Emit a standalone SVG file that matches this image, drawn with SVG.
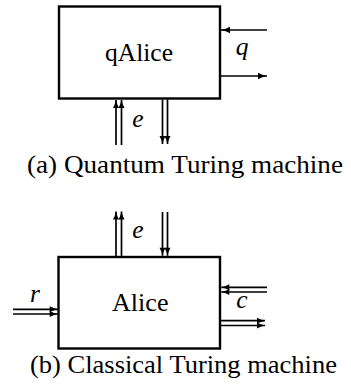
<svg xmlns="http://www.w3.org/2000/svg" width="351" height="387" viewBox="0 0 351 387">
  <style>
    .box { fill: #fff; stroke: #000; stroke-width: 2.4; }
    .lbl { font-family: "Liberation Serif", "DejaVu Serif", serif; font-size: 25.5px; fill: #000; }
    .math { font-family: "Liberation Serif", "DejaVu Serif", serif; font-style: italic; font-size: 25.5px; fill: #000; }
    .cap { font-family: "Liberation Serif", "DejaVu Serif", serif; font-size: 25.5px; fill: #000; }
    .one { stroke: #000; stroke-width: 1.6; fill: none; marker-end: url(#head); }
    .dbl { stroke: #000; stroke-width: 1.7; fill: none; marker-end: url(#headS); }
  </style>
  <defs>
    <marker id="head" markerUnits="userSpaceOnUse" markerWidth="12" markerHeight="10" viewBox="0 -5 10 10" refX="9" refY="0" orient="auto">
      <path d="M0,-3.3 Q4,-1 9,0 Q4,1 0,3.3 Z" fill="#000"/>
    </marker>
    <marker id="headS" markerUnits="userSpaceOnUse" markerWidth="10" markerHeight="8" viewBox="0 -4 9 8" refX="8" refY="0" orient="auto">
      <path d="M0,-3 Q3.5,-1 8,0 Q3.5,1 0,3 Z" fill="#000"/>
    </marker>
  </defs>

  <g id="connectors">
    <line class="one" x1="267" y1="30" x2="221" y2="30"/>
    <line class="one" x1="220.5" y1="76" x2="267" y2="76"/>
    <line class="dbl" x1="116" y1="145" x2="116" y2="100"/>
    <line class="dbl" x1="121.5" y1="145" x2="121.5" y2="100"/>
    <line class="dbl" x1="162.5" y1="99.5" x2="162.5" y2="144"/>
    <line class="dbl" x1="167.5" y1="99.5" x2="167.5" y2="144"/>

    <line class="dbl" x1="116" y1="256" x2="116" y2="211.5"/>
    <line class="dbl" x1="121.5" y1="256" x2="121.5" y2="211.5"/>
    <line class="dbl" x1="162.5" y1="212" x2="162.5" y2="255.7"/>
    <line class="dbl" x1="167.5" y1="212" x2="167.5" y2="255.7"/>
    <line class="dbl" x1="267" y1="287.3" x2="221.3" y2="287.3"/>
    <line class="dbl" x1="267" y1="292" x2="221.3" y2="292"/>
    <line class="dbl" x1="220.5" y1="320.7" x2="265" y2="320.7"/>
    <line class="dbl" x1="220.5" y1="325.5" x2="265" y2="325.5"/>
    <line class="dbl" x1="13" y1="309.3" x2="57.7" y2="309.3"/>
    <line class="dbl" x1="13" y1="314" x2="57.7" y2="314"/>
  </g>

  <g id="qAlice">
    <rect class="box" x="59" y="6.5" width="161" height="92"/>
    <text class="lbl" x="105" y="61" textLength="68" lengthAdjust="spacingAndGlyphs">qAlice</text>
  </g>

  <g id="Alice">
    <rect class="box" x="58.5" y="257" width="161.5" height="91.5"/>
    <text class="lbl" x="112" y="311" textLength="56.5" lengthAdjust="spacingAndGlyphs">Alice</text>
  </g>

  <g id="labels">
    <text class="math" x="242" y="55" text-anchor="middle">q</text>
    <text class="math" x="138" y="126.5" text-anchor="middle">e</text>
    <text class="math" x="138" y="238" text-anchor="middle">e</text>
    <text class="math" x="35" y="301.5" text-anchor="middle">r</text>
    <text class="math" x="242" y="308" text-anchor="middle">c</text>
  </g>

  <g id="captions">
    <text class="cap" x="27" y="173" textLength="316" lengthAdjust="spacingAndGlyphs">(a) Quantum Turing machine</text>
    <text class="cap" x="30" y="373" textLength="307" lengthAdjust="spacingAndGlyphs">(b) Classical Turing machine</text>
  </g>
</svg>
